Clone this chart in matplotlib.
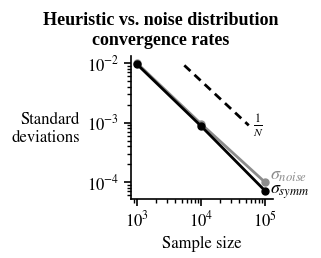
import matplotlib
matplotlib.use("Agg")
import matplotlib.pyplot as plt
import numpy as np

plt.rcParams['font.family'] = ['STIXGeneral', 'DejaVu Serif']
plt.rcParams['mathtext.fontset'] = 'stix'

sample_sizes = [1e3, 1e4, 1e5]
sigma_noise = [1.0e-2, 9.6e-4, 1.0e-4]
sigma_symm = [9.6e-3, 8.8e-4, 7.2e-5]
ref_x = [5.5e3, 5.6e4]
ref_y = [9.2e-3, 9.0e-4]

fig = plt.figure(figsize=(3.21, 2.58), dpi=100)
ax = fig.add_axes([0.408, 0.229, 0.442, 0.553])

ax.plot(sample_sizes, sigma_noise, color='#8c8c8c', lw=2, marker='o', ms=5, clip_on=False, zorder=3)
ax.plot(sample_sizes, sigma_symm, color='black', lw=2, marker='o', ms=5, clip_on=False, zorder=4)
ax.plot(ref_x, ref_y, color='black', lw=2, ls=(0, (3, 2)))

ax.set_xscale('log')
ax.set_yscale('log')
ax.set_xlim(10**2.906, 10**5.125)
ax.set_ylim(10**-4.283, 10**-1.883)

for s in ['top', 'right']:
    ax.spines[s].set_visible(False)
ax.spines['left'].set_linewidth(1.2)
ax.spines['bottom'].set_linewidth(1.2)
ax.tick_params(which='major', length=5, width=1.2, labelsize=12, direction='out')
ax.tick_params(which='minor', length=3, width=1.0, direction='out')

ax.text(ref_x[1] * 1.15, ref_y[1] * 1.0, r'$\frac{1}{N}$', fontsize=12, ha='left', va='center')
ax.text(sample_sizes[2] * 1.2, sigma_noise[2] * 1.12, r'$\sigma_{noise}$', color='#8c8c8c', fontsize=13, ha='left', va='baseline')
ax.text(sample_sizes[2] * 1.2, sigma_symm[2] * 0.9, r'$\sigma_{symm}$', color='black', fontsize=13, ha='left', va='baseline')

ax.set_xlabel('Sample size', fontsize=12)
ax.set_ylabel('Standard\ndeviations', fontsize=12, rotation=0, ha='right', va='center')
ax.yaxis.set_label_coords(-0.36, 0.49)

fig.text(0.5, 0.955, 'Heuristic vs. noise distribution\nconvergence rates', fontsize=13, fontweight='bold',
         family=['Liberation Serif', 'STIXGeneral'], ha='center', va='top', linespacing=1.28)

fig.savefig('out.png', dpi=100)
